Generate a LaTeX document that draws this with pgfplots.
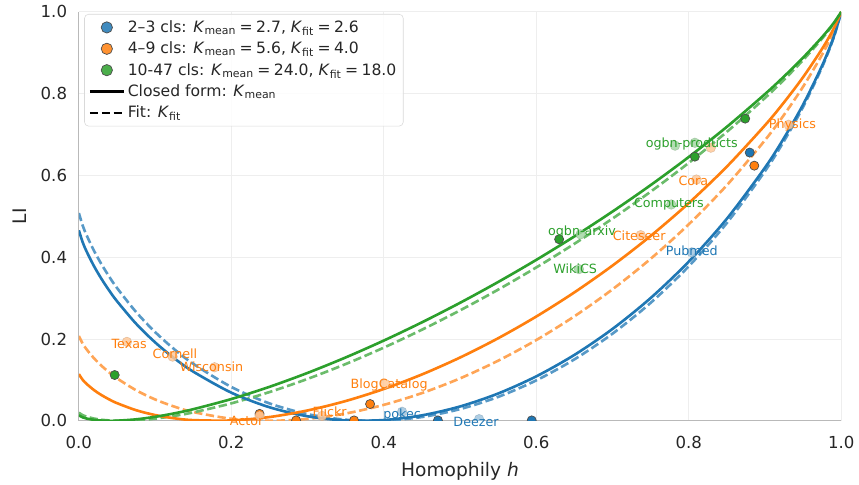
\documentclass[border=0pt]{standalone}
\usepackage{fontspec}
\setmainfont{DejaVu Sans}
\usepackage{pgfplots}
\usepackage{pgfplotstable}
\pgfplotsset{compat=1.18}
\definecolor{tabblue}{HTML}{1F77B4}
\definecolor{taborange}{HTML}{FF7F0E}
\definecolor{tabgreen}{HTML}{2CA02C}
\definecolor{txt}{HTML}{262626}

% closed-form (b1,o1,g1: K_mean) and fit (b2,o2,g2: K_fit) curves, values tabulated
\pgfplotstableread{
h b1 b2 o1 o2 g1 g2
0 0.46577 0.50811 0.11418 0.20752 0.01339 0.01978
0.005 0.43674 0.47763 0.10034 0.18877 0.00842 0.01379
0.01 0.41473 0.45442 0.09053 0.17505 0.00564 0.01020
0.02 0.37775 0.41535 0.07499 0.15265 0.00228 0.00546
0.03 0.34614 0.38185 0.06254 0.13410 0.00059 0.00256
0.04 0.31805 0.35202 0.05213 0.11807 0.00001 0.00088
0.05 0.29261 0.32495 0.04324 0.10394 0.00026 0.00010
0.075 0.23764 0.26622 0.02599 0.07480 0.00362 0.00113
0.1 0.19190 0.21708 0.01407 0.05227 0.00976 0.00533
0.125 0.15322 0.17529 0.00621 0.03480 0.01816 0.01195
0.15 0.12032 0.13951 0.00169 0.02147 0.02837 0.02056
0.2 0.06881 0.08279 0.00088 0.00505 0.05326 0.04269
0.25 0.03317 0.04257 0.00922 0.00000 0.08310 0.07028
0.3 0.01102 0.01637 0.02534 0.00462 0.11716 0.10250
0.35 0.00090 0.00268 0.04840 0.01785 0.15498 0.13885
0.4 0.00188 0.00052 0.07785 0.03904 0.19626 0.17902
0.45 0.01336 0.00928 0.11336 0.06775 0.24084 0.22280
0.5 0.03503 0.02864 0.15475 0.10376 0.28859 0.27008
0.55 0.06678 0.05847 0.20194 0.14700 0.33950 0.32082
0.6 0.10872 0.09890 0.25502 0.19753 0.39359 0.37506
0.65 0.16117 0.15025 0.31415 0.25560 0.45096 0.43292
0.7 0.22472 0.21313 0.37967 0.32161 0.51180 0.49459
0.75 0.30029 0.28851 0.45213 0.39624 0.57640 0.56039
0.8 0.38935 0.37792 0.53237 0.48054 0.64522 0.63083
0.85 0.49428 0.48383 0.62176 0.57621 0.71900 0.70672
0.9 0.61929 0.61059 0.72272 0.68625 0.79905 0.78951
0.925 0.69174 0.68432 0.77894 0.74841 0.84218 0.83432
0.95 0.77342 0.76765 0.84048 0.81718 0.88821 0.88231
0.975 0.86894 0.86535 0.91000 0.89586 0.93855 0.93505
0.99 0.93828 0.93647 0.95864 0.95168 0.97251 0.97082
1 1 1 1 1 1 1
}\curves

\pgfplotstableread{
h li
0.880 0.656
0.471 0.001
0.594 0.001
}\solidblue
\pgfplotstableread{
h li
0.886 0.624
0.382 0.041
0.237 0.017
0.285 0.001
0.361 0.001
}\solidorange
\pgfplotstableread{
h li
0.047 0.112
0.630 0.444
0.808 0.646
0.874 0.739
}\solidgreen

\pgfplotstableread{
h li
0.424 0.022
0.525 0.004
0.804 0.412
}\lightblue
\pgfplotstableread{
h li
0.063 0.193
0.123 0.157
0.178 0.131
0.237 0.012
0.319 0.012
0.402 0.090
0.737 0.454
0.810 0.590
0.931 0.724
0.829 0.668
}\lightorange
\pgfplotstableread{
h li
0.656 0.371
0.658 0.456
0.777 0.529
0.808 0.680
0.782 0.673
}\lightgreen

\pgfplotstableread{
h li lab
0.424 0.015 pokec
0.521 -0.002 Deezer
0.804 0.417 Pubmed
}\labblue
\pgfplotstableread{
h li lab
0.066 0.188 Texas
0.126 0.163 Cornell
0.174 0.133 Wisconsin
0.220 0.000 Actor
0.329 0.021 Flickr
0.407 0.088 BlogCatalog
0.735 0.453 Citeseer
0.806 0.588 Cora
0.936 0.724 Physics
}\laborange
\pgfplotstableread{
h li lab
0.651 0.373 WikiCS
0.660 0.461 ogbn-arxiv
0.774 0.529 Computers
0.804 0.676 ogbn-products
}\labgreen

\newcommand{\eqs}{\hspace{0.22em}=\hspace{0.22em}}

\begin{document}
\begin{tikzpicture}
\pgfplotsset{
  common/.style={
    scale only axis, width=550bp, height=295bp,
    xmin=0, xmax=1, ymin=0, ymax=1,
  },
  solidpts/.style={only marks, mark=*, mark size=3.3pt,
    mark options={fill=#1, draw=black!70, line width=0.5pt}},
  lightpts/.style={only marks, mark=*, mark size=3.5pt,
    mark options={fill=#1!42!white, draw=#1!40!gray, line width=0.4pt, fill opacity=0.85, draw opacity=0.35}},
  lab/.style={draw=none, mark=none, nodes near coords, point meta=explicit symbolic,
    every node near coord/.style={anchor=center, inner sep=0pt,
      font=\fontsize{9.2}{10}\selectfont, text=#1}},
}
\begin{axis}[
  common, name=main,
  axis x line*=bottom, axis y line*=left,
  axis line style={draw=gray!55, line width=0.7pt},
  major tick length=0pt,
  xtick={0,0.2,0.4,0.6,0.8,1}, ytick={0,0.2,0.4,0.6,0.8,1},
  grid=major, major grid style={draw=gray!13, line width=0.6pt},
  /pgf/number format/assume math mode=true,
  xticklabel style={/pgf/number format/fixed, /pgf/number format/fixed zerofill, /pgf/number format/precision=1, yshift=-7.5bp},
  yticklabel style={/pgf/number format/fixed, /pgf/number format/fixed zerofill, /pgf/number format/precision=1, xshift=-5bp},
  tick label style={font=\fontsize{12}{14}\selectfont, text=txt},
  label style={font=\fontsize{13.5}{15}\selectfont, text=txt},
  xlabel={Homophily \textit{h}}, ylabel={LI},
  xlabel style={at={(axis description cs:0.5,-0.1234)}, anchor=center},
  ylabel style={at={(axis description cs:-0.0773,0.5)}, anchor=center},
  clip marker paths=true,
  legend style={at={(0.007,0.995)}, anchor=north west, draw=gray!30, rounded corners=3pt,
    fill=white, fill opacity=0.85, text opacity=1, font=\fontsize{11.3}{13}\selectfont,
    text=txt, inner xsep=3pt, inner ysep=2.5pt, row sep=1.4pt},
  legend cell align=left,
]
\addlegendimage{legend image code/.code={\draw[fill=tabblue, draw=black!70, line width=0.5pt] (0.43cm,0cm) circle (4.1pt);}}
\addlegendentry{2–3 cls: \textit{K}\textsubscript{mean}\eqs 2.7, \textit{K}\textsubscript{fit}\eqs 2.6}
\addlegendimage{legend image code/.code={\draw[fill=taborange, draw=black!70, line width=0.5pt] (0.43cm,0cm) circle (4.1pt);}}
\addlegendentry{4–9 cls: \textit{K}\textsubscript{mean}\eqs 5.6, \textit{K}\textsubscript{fit}\eqs 4.0}
\addlegendimage{legend image code/.code={\draw[fill=tabgreen, draw=black!70, line width=0.5pt] (0.43cm,0cm) circle (4.1pt);}}
\addlegendentry{10-47 cls: \textit{K}\textsubscript{mean}\eqs 24.0, \textit{K}\textsubscript{fit}\eqs 18.0}
\addlegendimage{legend image code/.code={\draw[black, line width=1.9pt] (0cm,0cm) -- (0.86cm,0cm);}}
\addlegendentry{Closed form: \textit{K}\textsubscript{mean}}
\addlegendimage{legend image code/.code={\draw[black, line width=1.9pt, dash pattern=on 6pt off 2.6pt] (0cm,0cm) -- (0.86cm,0cm);}}
\addlegendentry{Fit: \textit{K}\textsubscript{fit}}

\addplot[forget plot, smooth, tabblue!75!white, line width=1.9pt, dash pattern=on 6pt off 2.6pt] table[x=h, y=b2] {\curves};
\addplot[forget plot, smooth, taborange!70!white, line width=1.9pt, dash pattern=on 6pt off 2.6pt] table[x=h, y=o2] {\curves};
\addplot[forget plot, smooth, tabgreen!70!white, line width=1.9pt, dash pattern=on 6pt off 2.6pt] table[x=h, y=g2] {\curves};
\addplot[forget plot, smooth, tabblue, line width=1.9pt] table[x=h, y=b1] {\curves};
\addplot[forget plot, smooth, taborange, line width=1.9pt] table[x=h, y=o1] {\curves};
\addplot[forget plot, smooth, tabgreen, line width=1.9pt] table[x=h, y=g1] {\curves};

\addplot[forget plot, solidpts=tabblue] table[x=h, y=li] {\solidblue};
\addplot[forget plot, solidpts=taborange] table[x=h, y=li] {\solidorange};
\addplot[forget plot, solidpts=tabgreen] table[x=h, y=li] {\solidgreen};
\addplot[forget plot, lightpts=tabblue] table[x=h, y=li] {\lightblue};
\addplot[forget plot, lightpts=taborange] table[x=h, y=li] {\lightorange};
\addplot[forget plot, lightpts=tabgreen] table[x=h, y=li] {\lightgreen};
\end{axis}
\begin{axis}[common, at={(main.south west)}, anchor=south west, hide axis, clip=false]
\addplot[lab=tabblue] table[x=h, y=li, meta=lab] {\labblue};
\addplot[lab=taborange] table[x=h, y=li, meta=lab] {\laborange};
\addplot[lab=tabgreen] table[x=h, y=li, meta=lab] {\labgreen};
\end{axis}
\path ([xshift=-56.9bp,yshift=-43.2bp]main.south west) rectangle ([xshift=11.5bp,yshift=8.6bp]main.north east);
\end{tikzpicture}
\end{document}
